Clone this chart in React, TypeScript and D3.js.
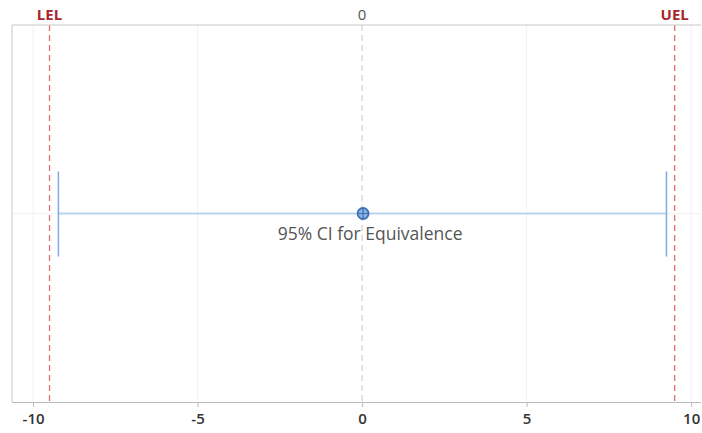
import React, { useRef, useEffect } from 'react';
import * as d3 from 'd3';

// values
const xTicks = [-10, -5, 0, 5, 10];
const xDomain = [-10.64, 10.3];
const limits = [
  { name: 'LEL', value: -9.5 },
  { name: 'UEL', value: 9.5 },
];
const estimate = [0.03];
const ciLower = [-9.23];
const ciUpper = [9.25];
const ciLabel = ['95% CI for Equivalence'];

const W = 702;
const H = 433;

const App = () => {
  const ref = useRef<SVGSVGElement>(null);

  useEffect(() => {
    const svg = d3.select(ref.current);
    svg.selectAll('*').remove();

    const margin = { top: 25, right: 1, bottom: 31, left: 12 };
    const width = W - margin.left - margin.right;
    const height = H - margin.top - margin.bottom;
    const font = '"Open Sans", "Noto Sans", sans-serif';

    const x = d3.scaleLinear().domain(xDomain).range([0, width]);
    const y = d3.scaleLinear().domain([0, 1]).range([height, 0]);

    const g = svg.append('g').attr('transform', `translate(${margin.left},${margin.top})`);

    // --- faint grid ---
    g.selectAll('.vgrid')
      .data(xTicks.filter(t => t !== 0))
      .enter()
      .append('line')
      .attr('x1', d => x(d)).attr('x2', d => x(d))
      .attr('y1', 0).attr('y2', height)
      .attr('stroke', '#f2f2f2');
    g.append('line')
      .attr('x1', 0).attr('x2', width)
      .attr('y1', y(0.5)).attr('y2', y(0.5))
      .attr('stroke', '#f2f2f2');

    // --- zero reference ---
    g.append('line')
      .attr('x1', x(0)).attr('x2', x(0))
      .attr('y1', 0).attr('y2', height)
      .attr('stroke', '#c8c8c8')
      .attr('stroke-dasharray', '6,4');

    // --- equivalence limits ---
    g.selectAll('.lim')
      .data(limits)
      .enter()
      .append('line')
      .attr('x1', d => x(d.value)).attr('x2', d => x(d.value))
      .attr('y1', 0).attr('y2', height)
      .attr('stroke', '#e07070')
      .attr('stroke-width', 1.3)
      .attr('stroke-dasharray', '6,4');

    // --- top labels ---
    const topLabels = [...limits.map(l => ({ text: l.name, value: l.value, color: '#a8262d' })), { text: '0', value: 0, color: '#555' }];
    g.selectAll('.toplab')
      .data(topLabels)
      .enter()
      .append('text')
      .attr('x', d => x(d.value))
      .attr('y', -5)
      .attr('text-anchor', 'middle')
      .attr('font-family', font)
      .attr('font-size', 15)
      .attr('font-weight', d => (d.text === '0' ? 'normal' : 'bold'))
      .attr('fill', d => d.color)
      .text(d => d.text);

    // --- frame ---
    g.append('path')
      .attr('d', `M0,${height}V0H${width}`)
      .attr('fill', 'none')
      .attr('stroke', '#c8c8c8');

    // --- x axis ---
    const ax = g.append('g')
      .attr('transform', `translate(0,${height})`)
      .call(d3.axisBottom(x).tickValues(xTicks).tickSize(5).tickPadding(6).tickFormat(d3.format('d')));
    ax.select('.domain').attr('stroke', '#bbb').attr('d', `M0,0.5H${width}`);
    ax.selectAll('.tick line').attr('stroke', '#bbb');
    ax.selectAll('text')
      .attr('font-family', font)
      .attr('font-size', 15)
      .attr('font-weight', 600)
      .attr('fill', '#333')
      .text(d => String(d));

    // --- confidence interval ---
    const cy = y(0.5);
    g.append('line')
      .attr('x1', x(ciLower[0])).attr('x2', x(ciUpper[0]))
      .attr('y1', cy).attr('y2', cy)
      .attr('stroke', '#b9d3ee')
      .attr('stroke-width', 2);
    g.selectAll('.cap')
      .data([ciLower[0], ciUpper[0]])
      .enter()
      .append('line')
      .attr('x1', d => x(d)).attr('x2', d => x(d))
      .attr('y1', cy - 42).attr('y2', cy + 43)
      .attr('stroke', '#86ade0')
      .attr('stroke-width', 1.6);

    // --- estimate ---
    const px = x(estimate[0]);
    g.append('circle')
      .attr('cx', px).attr('cy', cy).attr('r', 5.5)
      .attr('fill', '#8db3e2')
      .attr('stroke', '#3d6fb5')
      .attr('stroke-width', 1.8);
    g.append('path')
      .attr('d', `M${px - 5.5},${cy}H${px + 5.5}M${px},${cy - 5.5}V${cy + 5.5}`)
      .attr('stroke', '#3d6fb5')
      .attr('stroke-width', 1.2);

    g.append('text')
      .attr('x', px + 7)
      .attr('y', cy + 26)
      .attr('text-anchor', 'middle')
      .attr('font-family', font)
      .attr('font-size', 17.5)
      .attr('fill', '#555')
      .text(ciLabel[0]);
  }, []);

  return (
    <svg ref={ref} width={W} height={H} style={{ position: 'absolute', left: 0, top: 0, background: '#fff' }}></svg>
  );
};

export default App;
